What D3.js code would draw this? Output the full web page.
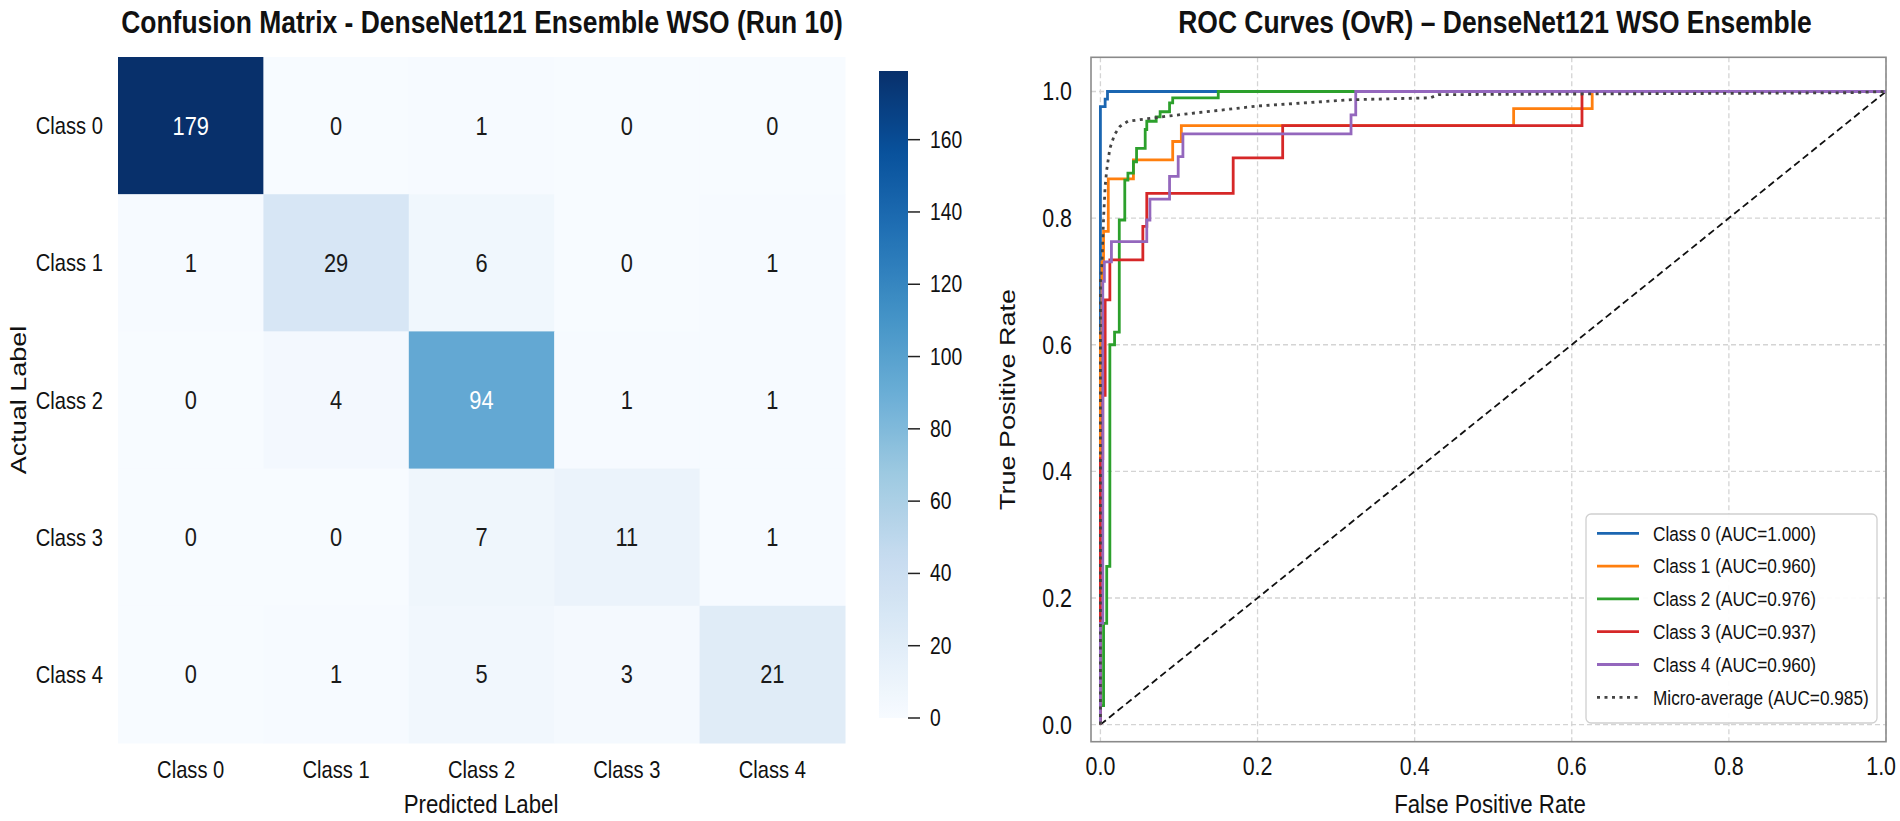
<!DOCTYPE html>
<html>
<head>
<meta charset="utf-8">
<script src="https://cdn.jsdelivr.net/npm/d3@7"></script>
<style>
  html, body { margin: 0; padding: 0; background: #ffffff; }
  svg { display: block; font-family: "Liberation Sans", Arial, Helvetica, sans-serif; }
</style>
</head>
<body>
<svg id="chart" width="1900" height="821"></svg>
<script>
// ---------------- DATA ----------------
const classes = ["Class 0", "Class 1", "Class 2", "Class 3", "Class 4"];
const matrixRow0 = [179, 0, 1, 0, 0];
const matrixRow1 = [1, 29, 6, 0, 1];
const matrixRow2 = [0, 4, 94, 1, 1];
const matrixRow3 = [0, 0, 7, 11, 1];
const matrixRow4 = [0, 1, 5, 3, 21];
const matrix = [matrixRow0, matrixRow1, matrixRow2, matrixRow3, matrixRow4];
const colorbarTicks = [0, 20, 40, 60, 80, 100, 120, 140, 160];
const rocTicks = [0, 0.2, 0.4, 0.6, 0.8, 1.0];

const roc0 = [[0,0],[0,0.976],[0.006,0.976],[0.006,0.988],[0.009,0.988],[0.009,1.0],[1,1]];
const roc1 = [[0,0],[0,0.62],[0.002,0.62],[0.002,0.731],[0.004,0.731],[0.004,0.779],[0.010,0.779],[0.010,0.862],
              [0.042,0.862],[0.042,0.892],[0.092,0.892],[0.092,0.921],[0.103,0.921],[0.103,0.946],
              [0.526,0.946],[0.526,0.973],[0.626,0.973],[0.626,1.0],[1,1]];
const roc2 = [[0,0],[0,0.03],[0.004,0.03],[0.004,0.16],[0.008,0.16],[0.008,0.25],[0.012,0.25],[0.012,0.60],
              [0.018,0.60],[0.018,0.62],[0.024,0.62],[0.024,0.797],[0.031,0.797],[0.031,0.86],[0.035,0.86],
              [0.035,0.871],[0.042,0.871],[0.042,0.889],[0.046,0.889],[0.046,0.91],[0.057,0.91],[0.057,0.94],
              [0.059,0.94],[0.059,0.953],[0.071,0.953],[0.071,0.96],[0.076,0.96],[0.076,0.968],[0.088,0.968],
              [0.088,0.982],[0.092,0.982],[0.092,0.99],[0.150,0.99],[0.150,1.0],[1,1]];
const roc3 = [[0,0],[0,0.42],[0.003,0.42],[0.003,0.52],[0.006,0.52],[0.006,0.671],[0.012,0.671],[0.012,0.734],
              [0.054,0.734],[0.054,0.787],[0.059,0.787],[0.059,0.839],[0.169,0.839],[0.169,0.895],
              [0.232,0.895],[0.232,0.946],[0.613,0.946],[0.613,1.0],[1,1]];
const roc4 = [[0,0],[0,0.16],[0.003,0.16],[0.003,0.70],[0.005,0.70],[0.005,0.731],[0.014,0.731],[0.014,0.763],
              [0.059,0.763],[0.059,0.797],[0.063,0.797],[0.063,0.830],[0.088,0.830],[0.088,0.866],[0.099,0.866],
              [0.099,0.897],[0.105,0.897],[0.105,0.933],[0.319,0.933],[0.319,0.963],[0.325,0.963],[0.325,1.0],[1,1]];
const rocMicro = [[0,0],[0,0.70],[0.002,0.73],[0.004,0.80],[0.006,0.85],[0.008,0.876],[0.012,0.91],[0.018,0.932],
                  [0.025,0.945],[0.035,0.953],[0.060,0.957],[0.085,0.961],[0.120,0.966],[0.200,0.977],
                  [0.320,0.987],[0.420,0.990],[0.430,0.995],[0.600,0.996],[0.800,0.997],[0.950,0.998],[1,1]];
const rocSeries = [roc0, roc1, roc2, roc3, roc4];
const rocLabels = ["Class 0 (AUC=1.000)", "Class 1 (AUC=0.960)", "Class 2 (AUC=0.976)",
                   "Class 3 (AUC=0.937)", "Class 4 (AUC=0.960)", "Micro-average (AUC=0.985)"];

// ---------------- STYLE ----------------
const SX = 0.84; // horizontal squeeze of glyphs seen in the reference
const rocColors = ["#1b66b1", "#ff7f0e", "#2ca02c", "#d62728", "#9467bd"];
const bluesStops = ["#f7fbff","#deebf7","#c6dbef","#9ecae1","#6baed6","#4292c6","#2171b5","#08519c","#08306b"];
const vmax = 179;
const W = 1900;

const svg = d3.select("#chart");

function addText(parent, x, y, str, opt) {
  opt = opt || {};
  const t = parent.append("text")
    .attr("transform", `translate(${x},${y}) scale(${SX},1)` + (opt.rotate ? ` rotate(${opt.rotate})` : ""))
    .attr("text-anchor", opt.anchor || "start")
    .attr("font-size", opt.size || 20)
    .attr("font-weight", opt.weight || "normal")
    .attr("fill", opt.fill || "#111")
    .text(str);
  return t;
}

// ---------------- HEATMAP ----------------
const color = d3.scaleLinear()
  .domain(d3.range(bluesStops.length).map(i => i / (bluesStops.length - 1) * vmax))
  .range(bluesStops)
  .interpolate(d3.interpolateRgb);

const xHm = d3.scaleBand().domain(classes).range([118, 845]);
const yHm = d3.scaleBand().domain(classes).range([57, 743]);

const hm = svg.append("g");
const cells = [];
matrix.forEach((row, i) => row.forEach((v, j) => cells.push({r: classes[i], c: classes[j], v})));

hm.selectAll("rect.cell").data(cells).join("rect")
  .attr("class", "cell")
  .attr("x", d => xHm(d.c))
  .attr("y", d => yHm(d.r))
  .attr("width", xHm.bandwidth() + 0.5)
  .attr("height", yHm.bandwidth() + 0.5)
  .attr("fill", d => color(d.v));

function lum(c) {
  const rgb = d3.rgb(c);
  const f = u => { u /= 255; return u <= 0.03928 ? u / 12.92 : Math.pow((u + 0.055) / 1.055, 2.4); };
  return 0.2126 * f(rgb.r) + 0.7152 * f(rgb.g) + 0.0722 * f(rgb.b);
}
cells.forEach(d => {
  addText(hm, xHm(d.c) + xHm.bandwidth() / 2, yHm(d.r) + yHm.bandwidth() / 2 + 9, String(d.v),
    {anchor: "middle", size: 26, fill: lum(color(d.v)) > 0.408 ? "#1a1a1a" : "#ffffff"});
});

classes.forEach(c => {
  addText(hm, xHm(c) + xHm.bandwidth() / 2, 778, c, {anchor: "middle", size: 24});
  addText(hm, 103, yHm(c) + yHm.bandwidth() / 2 + 8.5, c, {anchor: "end", size: 24});
});
addText(hm, 481, 813, "Predicted Label", {anchor: "middle", size: 26.5});
addText(hm, 26, 400, "Actual Label", {anchor: "middle", size: 27, rotate: -90});
addText(hm, 482, 33, "Confusion Matrix - DenseNet121 Ensemble WSO (Run 10)",
  {anchor: "middle", size: 31.5, weight: "bold"});

// colorbar
const cbScale = d3.scaleLinear().domain([0, vmax]).range([718, 71]);
const defs = svg.append("defs");
const grad = defs.append("linearGradient").attr("id", "cbgrad")
  .attr("x1", 0).attr("y1", 1).attr("x2", 0).attr("y2", 0);
d3.range(0, 1.0001, 0.02).forEach(t => {
  grad.append("stop").attr("offset", t).attr("stop-color", color(t * vmax));
});
svg.append("rect").attr("x", 879).attr("width", 29)
  .attr("y", cbScale(vmax)).attr("height", cbScale(0) - cbScale(vmax))
  .attr("fill", "url(#cbgrad)");
const cbG = svg.append("g");
colorbarTicks.forEach(v => {
  cbG.append("line").attr("x1", 908).attr("x2", 920)
    .attr("y1", cbScale(v)).attr("y2", cbScale(v))
    .attr("stroke", "#222").attr("stroke-width", 1.5);
  addText(cbG, 930, cbScale(v) + 8, String(v), {size: 23});
});

// ---------------- ROC ----------------
const X0 = 1091, X1 = 1886, Y0 = 57.3, Y1 = 741.7;
const xRoc = d3.scaleLinear().domain([-0.012, 1.0]).range([X0, X1]);
const yRoc = d3.scaleLinear().domain([-0.027, 1.054]).range([Y1, Y0]);

defs.append("clipPath").attr("id", "rocclip").append("rect")
  .attr("x", X0).attr("y", Y0).attr("width", X1 - X0).attr("height", Y1 - Y0);

const roc = svg.append("g");
// grid
rocTicks.forEach(t => {
  roc.append("line").attr("x1", xRoc(t)).attr("x2", xRoc(t)).attr("y1", Y0).attr("y2", Y1)
    .attr("stroke", "#d4d4d4").attr("stroke-width", 1.3).attr("stroke-dasharray", "5,3");
  roc.append("line").attr("y1", yRoc(t)).attr("y2", yRoc(t)).attr("x1", X0).attr("x2", X1)
    .attr("stroke", "#d4d4d4").attr("stroke-width", 1.3).attr("stroke-dasharray", "5,3");
});

const lineGen = d3.line().x(d => xRoc(d[0])).y(d => yRoc(d[1]));
const plot = roc.append("g").attr("clip-path", "url(#rocclip)");

plot.append("path").datum([[0, 0], [1, 1]]).attr("d", lineGen)
  .attr("fill", "none").attr("stroke", "#111").attr("stroke-width", 1.8).attr("stroke-dasharray", "7,4");

rocSeries.forEach((s, i) => {
  plot.append("path").datum(s).attr("d", lineGen)
    .attr("fill", "none").attr("stroke", rocColors[i]).attr("stroke-width", 2.8)
    .attr("stroke-linejoin", "miter");
});
plot.append("path").datum(rocMicro).attr("d", lineGen)
  .attr("fill", "none").attr("stroke", "#444").attr("stroke-width", 2.8).attr("stroke-dasharray", "3,4.5");

// frame
roc.append("rect").attr("x", X0).attr("y", Y0).attr("width", X1 - X0).attr("height", Y1 - Y0)
  .attr("fill", "none").attr("stroke", "#8a8a8a").attr("stroke-width", 1.6);

// tick labels
rocTicks.forEach(t => {
  addText(roc, 1072, yRoc(t) + 9, t.toFixed(1), {anchor: "end", size: 25.5});
  const lbl = addText(roc, xRoc(t), 775, t.toFixed(1), {anchor: "middle", size: 25.5});
  // keep the last label inside the canvas
  const half = lbl.node().getComputedTextLength() * SX / 2;
  const cx = Math.min(xRoc(t), W - half - 4);
  lbl.attr("transform", `translate(${cx},775) scale(${SX},1)`);
});
addText(roc, 1490, 813, "False Positive Rate", {anchor: "middle", size: 26.5});
addText(roc, 1015, 399.5, "True Positive Rate", {anchor: "middle", size: 27, rotate: -90});
addText(roc, 1495, 33, "ROC Curves (OvR) \u2013 DenseNet121 WSO Ensemble",
  {anchor: "middle", size: 31.5, weight: "bold"});

// legend
const lg = roc.append("g");
lg.append("rect").attr("x", 1586).attr("y", 514).attr("width", 291).attr("height", 209)
  .attr("rx", 5).attr("fill", "#ffffff").attr("fill-opacity", 0.92)
  .attr("stroke", "#d0d0d0").attr("stroke-width", 1.3);
const legendY = d3.scaleLinear().domain([0, 5]).range([533.3, 697.3]);
rocLabels.forEach((lab, i) => {
  const y = legendY(i);
  const ln = lg.append("line").attr("x1", 1597).attr("x2", 1639).attr("y1", y).attr("y2", y)
    .attr("stroke-width", 2.8);
  if (i < 5) ln.attr("stroke", rocColors[i]);
  else ln.attr("stroke", "#444").attr("stroke-dasharray", "3,4.5");
  addText(lg, 1653, y + 7.3, lab, {size: 20.5});
});
</script>
</body>
</html>
